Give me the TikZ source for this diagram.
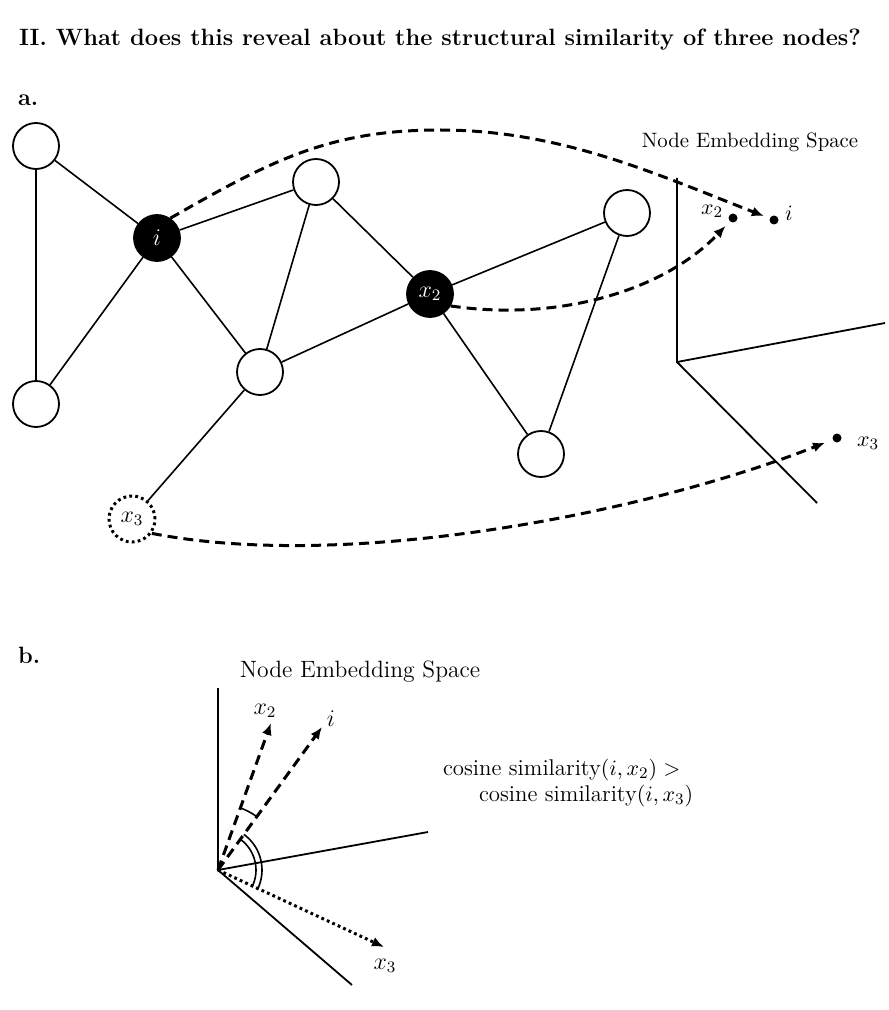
\documentclass[tikz,border=0pt]{standalone}
\usetikzlibrary{arrows.meta}
\begin{document}
\begin{tikzpicture}[x=0.5pt,y=-0.5pt,
  every node/.style={font=\fontsize{10.4}{12.5}\selectfont},
  head/.style={font=\fontsize{11.8}{14}\selectfont\bfseries},
  big/.style={font=\fontsize{11.8}{14}\selectfont},
  note/.style={font=\fontsize{11.4}{14}\selectfont},
  vertex/.style={circle,draw,line width=0.9pt,minimum size=23pt,inner sep=0pt,
    font=\fontsize{12}{14}\selectfont},
  hub/.style={vertex,fill=black,text=white},
  ghost/.style={vertex,line width=1.5pt,dash pattern=on 1.4pt off 1.6pt},
  edge/.style={line width=0.8pt},
  flow/.style={line width=1.5pt,dash pattern=on 5pt off 3pt,-{Latex[length=6pt,width=5pt]}},
  dotflow/.style={line width=1.5pt,dash pattern=on 1.4pt off 1.6pt,-{Latex[length=6pt,width=5pt]}},
  axis/.style={line width=0.9pt},
  pt/.style={circle,fill=black,inner sep=0pt,minimum size=4.5pt},
  anglemark/.style={line width=0.8pt}]
\useasboundingbox (0,0) rectangle (888,1010);

% headings
\node[head] (title) at (440,40)
  {II. What does this reveal about the structural similarity of three nodes?};
\node[head,anchor=west] (la) at (11,100) {a.};
\node[head,anchor=west] (lb) at (11,655) {b.};

% ---------- a. graph ----------
\node[vertex] (a1) at (36,146) {};
\node[vertex] (a2) at (36,404) {};
\node[hub] (i) at (157,238) {$i$};
\node[vertex] (t) at (316,182) {};
\node[vertex] (c) at (260,372) {};
\node[hub] (x2) at (430,294) {$x_2$};
\node[vertex] (r1) at (627,213) {};
\node[vertex] (r2) at (541,454) {};
\node[ghost] (x3) at (132,519) {$x_3$};

\draw[edge] (a1)--(a2) (a1)--(i) (a2)--(i) (i)--(t) (i)--(c) (t)--(c)
  (c)--(x2) (t)--(x2) (x2)--(r1) (x2)--(r2) (r1)--(r2) (c)--(x3);

% ---------- a. embedding space ----------
\node (sa) at (750,142) {Node Embedding Space};
\coordinate (oa) at (677,362);
\coordinate (ua) at (677,178);
\coordinate (ra) at (885,323);
\coordinate (da) at (817,503);
\draw[axis] (ua)--(oa)--(ra) (oa)--(da);

\node[pt] (pi) at (774,220) {};
\node[pt] (px2) at (733,218) {};
\node[pt] (px3) at (837,438) {};
\node[font=\fontsize{11}{13}\selectfont] (lpi) at (789,213) {$i$};
\node[font=\fontsize{11}{13}\selectfont] (lpx2) at (712,211) {$x_2$};
\node[font=\fontsize{11}{13}\selectfont] (lpx3) at (868,443) {$x_3$};

% mappings from the graph into the embedding space
\coordinate (apex) at (440,130);
\draw[flow,shorten >=3pt] (i.56) .. controls (272,160) and (330,130) .. (apex)
  .. controls (560,130) and (656,174) .. (pi);
\draw[flow,shorten >=3pt] (x2.-30) .. controls (560,322) and (665,290) .. (px2);
\draw[flow,shorten >=4pt] (x3.-36) .. controls (350,572) and (650,512) .. (px3);

% ---------- b. embedding space ----------
\node[big] (sb) at (360,672) {Node Embedding Space};
\coordinate (ob) at (218,870);
\coordinate (ub) at (218,688);
\coordinate (rb) at (428,832);
\coordinate (db) at (352,985);
\draw[axis] (ub)--(ob)--(rb) (ob)--(db);

\coordinate (vx2) at (271,723);
\coordinate (vi) at (322,727);
\coordinate (vx3) at (384,947);
\draw[flow] (ob) -- (vx2);
\draw[flow] (ob) -- (vi);
\draw[dotflow] (ob) -- (vx3);
\node[big] (lvx2) at (265,711) {$x_2$};
\node[big] (lvi) at (331,719) {$i$};
\node[big] (lvx3) at (385,966) {$x_3$};

% angle marks
\draw[anglemark] (ob) ++(-70.5:66) arc[start angle=-70.5,end angle=-54,radius=66];
\draw[anglemark] (ob) ++(-54:38) arc[start angle=-54,end angle=27,radius=38];
\draw[anglemark] (ob) ++(-54:44) arc[start angle=-54,end angle=27,radius=44];

% comparison
\node[note,anchor=west] (cs1) at (436,770) {cosine similarity$(i,x_2)>$};
\node[note,anchor=west] (cs2) at (472,796) {cosine similarity$(i,x_3)$};
\end{tikzpicture}
\end{document}
